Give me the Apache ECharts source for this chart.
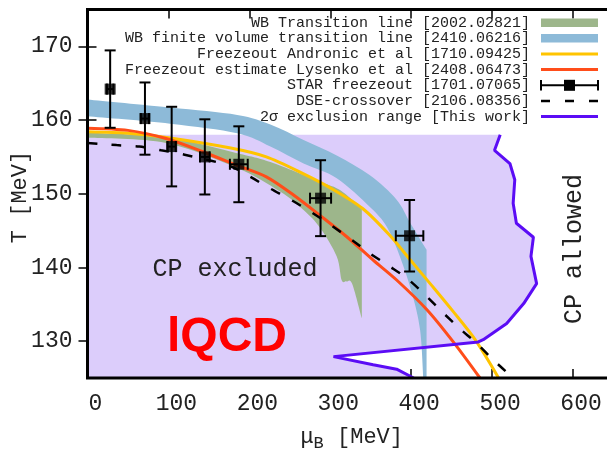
<!DOCTYPE html>
<html>
<head>
<meta charset="utf-8">
<script src="https://cdn.jsdelivr.net/npm/echarts@6/dist/echarts.min.js"></script>
<style>
  html, body { margin: 0; padding: 0; background: #fff; }
  #chart { width: 607px; height: 453px; }
</style>
</head>
<body>
<div id="chart"></div>
<script>
// Axis ticks
const muTicks = [0, 100, 200, 300, 400, 500, 600];
const tTicks = [130, 140, 150, 160, 170];

// STAR chemical freeze-out points
const starMu = [28, 71, 104, 145, 187, 288, 398];
const starT = [164.2, 160.2, 156.4, 155.0, 154.0, 149.4, 144.3];
const starTErr = [5.25, 4.9, 5.4, 5.1, 5.15, 5.15, 4.85];
const starMuErr = [4, 5, 5, 6, 11, 13, 17];

// WB transition line band (upper and lower edge)
const wbUpperMu = [0, 100, 185, 226, 288, 312, 339];
const wbUpperT = [158.3, 157.6, 155.5, 154.3, 151.6, 150.5, 148.0];
const wbLowerMu = [0, 97, 185, 238, 267, 288, 308, 314, 320, 327, 339];
const wbLowerT = [157.6, 156.9, 153.5, 150.3, 147.8, 145.3, 141.5, 138.3, 138.1, 137.8, 133.1];

// WB finite volume transition band (upper and lower edge)
const fvUpperMu = [0, 102, 185, 226, 267, 308, 349, 382, 399, 419];
const fvUpperT = [162.8, 161.7, 160.7, 159.4, 157.3, 155.2, 152.5, 149.2, 146.0, 142.4];
const fvLowerMu = [0, 102, 185, 226, 267, 308, 349, 370, 386, 401, 411, 415];
const fvLowerT = [160.5, 159.5, 158.2, 156.4, 154.1, 152.1, 148.2, 145.5, 141.5, 136.5, 131.5, 125.0];

// Freeze-out, Andronic et al
const andronicMu = [0, 50, 100, 177, 221, 267, 300, 340, 374, 399, 425, 452, 479, 508];
const andronicT = [158.4, 158.2, 157.6, 156.2, 155.0, 152.7, 150.8, 148.0, 144.3, 141.0, 137.6, 134.0, 130.2, 125.0];

// Freeze-out estimate, Lysenko et al
const lysenkoMu = [0, 50, 97, 140, 186, 221, 255, 288, 320, 353, 382, 420, 452, 485];
const lysenkoT = [158.9, 158.6, 157.5, 155.8, 153.8, 152.3, 149.8, 147.0, 144.2, 141.0, 138.3, 134.2, 129.9, 125.0];

// DSE crossover
const dseMu = [0, 36, 64, 91, 120, 175, 201, 226, 251, 275, 300, 327, 349, 374, 395, 417, 438, 460, 481, 502, 526];
const dseT = [156.9, 156.6, 156.4, 155.9, 155.3, 153.8, 152.3, 150.7, 149.2, 147.6, 145.8, 143.7, 141.9, 140.1, 138.5, 136.3, 134.0, 131.7, 129.7, 127.4, 125.0];

// 2-sigma exclusion boundary
const exclMu = [510, 503, 522, 528, 526, 530, 551, 548, 555, 539, 518, 489, 483, 304, 353, 382, 403];
const exclT = [158.0, 155.9, 154.1, 151.9, 148.7, 146.0, 144.1, 141.5, 137.8, 135.1, 132.4, 130.2, 129.9, 127.9, 126.8, 126.2, 125.0];
const exclTop = 158.0;

const MONO = '"Liberation Mono", "DejaVu Sans Mono", monospace';
const TXT = '#222';

const zip = (xs, ys) => xs.map((x, i) => [x, ys[i]]);

// Catmull-Rom spline through pixel points, as SVG cubic commands
function splineCmds(p) {
  let s = '';
  for (let i = 0; i < p.length - 1; i++) {
    const p0 = p[i - 1] || p[i], p1 = p[i], p2 = p[i + 1], p3 = p[i + 2] || p[i + 1];
    const c1 = [p1[0] + (p2[0] - p0[0]) / 6, p1[1] + (p2[1] - p0[1]) / 6];
    const c2 = [p2[0] - (p3[0] - p1[0]) / 6, p2[1] - (p3[1] - p1[1]) / 6];
    s += ' C' + c1[0] + ' ' + c1[1] + ' ' + c2[0] + ' ' + c2[1] + ' ' + p2[0] + ' ' + p2[1];
  }
  return s;
}

// Filled band between a smooth upper edge and a smooth lower edge
function bandSeries(name, upMu, upT, loMu, loT, color, z) {
  return {
    type: 'custom', name: name, z: z, silent: true,
    data: [[upMu[0], upT[0]]],
    renderItem: function (params, api) {
      const up = zip(upMu, upT).map(d => api.coord(d));
      const lo = zip(loMu, loT).map(d => api.coord(d)).reverse();
      let path = 'M' + up[0][0] + ' ' + up[0][1] + splineCmds(up);
      if (upMu[upMu.length - 1] !== loMu[loMu.length - 1]) {
        const corner = api.coord([upMu[upMu.length - 1], loT[loT.length - 1]]);
        path += ' L' + corner[0] + ' ' + corner[1];
      }
      path += ' L' + lo[0][0] + ' ' + lo[0][1] + splineCmds(lo) + ' Z';
      return { type: 'path', shape: { pathData: path }, style: { fill: color } };
    }
  };
}

function lineSeries(name, xs, ys, color, width, dash, z, smooth) {
  return {
    type: 'line', name: name, z: z, silent: true,
    data: zip(xs, ys), showSymbol: false, symbol: 'none',
    smooth: smooth, clip: true,
    lineStyle: { color: color, width: width, type: dash || 'solid', cap: 'butt' }
  };
}

const chart = echarts.init(document.getElementById('chart'));

const tickStyle = { show: true, inside: true, length: 9, lineStyle: { color: '#000', width: 1.5 } };

const option = {
  animation: false,
  backgroundColor: '#fff',
  grid: {
    left: 87.5, top: 9.5, width: 526, height: 368.5,
    outerBoundsMode: 'none', containLabel: false, show: false
  },
  xAxis: [
    {
      type: 'value', min: 0, max: 650, position: 'bottom',
      axisLine: { show: false }, splitLine: { show: false },
      axisTick: Object.assign({ customValues: muTicks }, tickStyle),
      axisLabel: {
        customValues: muTicks, margin: 14, hideOverlap: false,
        formatter: '{v|{value}}',
        rich: { v: { padding: [0, 0, 0, 16], fontFamily: MONO, fontSize: 23, color: TXT } },
        fontFamily: MONO, fontSize: 23, color: TXT
      }
    },
    {
      type: 'value', min: 0, max: 650, position: 'top',
      axisLine: { show: false }, splitLine: { show: false },
      axisTick: Object.assign({ customValues: muTicks }, tickStyle),
      axisLabel: { show: false }
    }
  ],
  yAxis: [
    {
      type: 'value', min: 125, max: 175, position: 'left',
      axisLine: { show: false }, splitLine: { show: false },
      axisTick: Object.assign({ customValues: tTicks }, tickStyle),
      axisLabel: {
        customValues: tTicks, margin: 15, padding: [4, 0, 0, 0],
        fontFamily: MONO, fontSize: 23, color: TXT
      }
    },
    {
      type: 'value', min: 125, max: 175, position: 'right',
      axisLine: { show: false }, splitLine: { show: false },
      axisTick: Object.assign({ customValues: tTicks }, tickStyle),
      axisLabel: { show: false }
    }
  ],
  series: [
    // excluded region left of the 2-sigma boundary
    {
      type: 'custom', name: 'excluded region', z: 1, silent: true,
      data: [[0, exclTop]],
      renderItem: function (params, api) {
        const pts = [api.coord([0, exclTop])]
          .concat(zip(exclMu, exclT).map(d => api.coord(d)))
          .concat([api.coord([0, exclT[exclT.length - 1]])]);
        return { type: 'polygon', shape: { points: pts }, style: { fill: '#dccdfb' } };
      }
    },
    bandSeries('WB Transition line', wbUpperMu, wbUpperT, wbLowerMu, wbLowerT, '#9db68b', 2),
    bandSeries('WB finite volume transition line', fvUpperMu, fvUpperT, fvLowerMu, fvLowerT, '#8dbad8', 3),
    lineSeries('Freezeout Andronic et al', andronicMu, andronicT, '#ffc400', 3, null, 4, 0.3),
    lineSeries('Freezeout estimate Lysenko et al', lysenkoMu, lysenkoT, '#ff4d1a', 3, null, 5, 0.3),
    // STAR error bars
    {
      type: 'custom', name: 'STAR freezeout', z: 6, silent: true,
      data: starMu.map((m, i) => [m, starT[i], starTErr[i], starMuErr[i]]),
      renderItem: function (params, api) {
        const m = api.value(0), t = api.value(1), dt = api.value(2), dm = api.value(3);
        const top = api.coord([m, t + dt]);
        const bot = api.coord([m, t - dt]);
        const lft = api.coord([m - dm, t]);
        const rgt = api.coord([m + dm, t]);
        const cap = 5.5;
        const st = { stroke: '#000', lineWidth: 2 };
        const seg = (x1, y1, x2, y2) => ({ type: 'line', shape: { x1: x1, y1: y1, x2: x2, y2: y2 }, style: st });
        return {
          type: 'group',
          children: [
            seg(top[0], top[1], bot[0], bot[1]),
            seg(top[0] - cap, top[1], top[0] + cap, top[1]),
            seg(bot[0] - cap, bot[1], bot[0] + cap, bot[1]),
            seg(lft[0], lft[1], rgt[0], rgt[1]),
            seg(lft[0], lft[1] - cap, lft[0], lft[1] + cap),
            seg(rgt[0], rgt[1] - cap, rgt[0], rgt[1] + cap)
          ]
        };
      }
    },
    {
      type: 'scatter', name: 'STAR points', z: 7, silent: true,
      data: zip(starMu, starT), symbol: 'rect', symbolSize: 11,
      itemStyle: { color: '#000' }
    },
    lineSeries('DSE-crossover', dseMu, dseT, '#000', 2.5, [10, 14], 8, 0.3),
    lineSeries('2σ exclusion range', exclMu, exclT, '#5b0cf5', 3, null, 9, false),
    // plot frame drawn above the data
    {
      type: 'custom', name: 'frame', z: 15, silent: true,
      data: [[0, 125]],
      renderItem: function (params) {
        const r = params.coordSys;
        return {
          type: 'polyline',
          shape: { points: [[r.x + r.width, r.y], [r.x, r.y], [r.x, r.y + r.height], [r.x + r.width, r.y + r.height]] },
          style: { stroke: '#000', lineWidth: 3, fill: null }
        };
      }
    }
  ],
  graphic: [
    // legend
    ...[
      'WB Transition line [2002.02821]',
      'WB finite volume transition line [2410.06216]',
      'Freezeout Andronic et al [1710.09425]',
      'Freezeout estimate Lysenko et al [2408.06473]',
      'STAR freezeout [1701.07065]',
      'DSE-crossover [2106.08356]',
      '2σ exclusion range [This work]'
    ].map((s, i) => ({
      type: 'text', z: 20,
      style: {
        text: s, x: 530, y: 22.7 + i * 15.65, textAlign: 'right', textVerticalAlign: 'middle',
        font: '15px ' + MONO, fill: TXT
      }
    })),
    { type: 'rect', z: 20, shape: { x: 541, y: 18.5, width: 57, height: 8.4 }, style: { fill: '#9db68b' } },
    { type: 'rect', z: 20, shape: { x: 541, y: 34.1, width: 57, height: 8.4 }, style: { fill: '#8dbad8' } },
    { type: 'line', z: 20, shape: { x1: 541, y1: 54, x2: 598, y2: 54 }, style: { stroke: '#ffc400', lineWidth: 3 } },
    { type: 'line', z: 20, shape: { x1: 541, y1: 69.6, x2: 598, y2: 69.6 }, style: { stroke: '#ff4d1a', lineWidth: 3 } },
    { type: 'line', z: 20, shape: { x1: 541, y1: 85.3, x2: 598, y2: 85.3 }, style: { stroke: '#000', lineWidth: 2 } },
    { type: 'line', z: 20, shape: { x1: 541, y1: 80, x2: 541, y2: 90.6 }, style: { stroke: '#000', lineWidth: 2 } },
    { type: 'line', z: 20, shape: { x1: 598, y1: 80, x2: 598, y2: 90.6 }, style: { stroke: '#000', lineWidth: 2 } },
    { type: 'rect', z: 20, shape: { x: 564, y: 79.8, width: 11, height: 11 }, style: { fill: '#000' } },
    { type: 'line', z: 20, shape: { x1: 541, y1: 100.9, x2: 599, y2: 100.9 }, style: { stroke: '#000', lineWidth: 2.5, lineDash: [9, 15] } },
    { type: 'line', z: 20, shape: { x1: 541, y1: 116.6, x2: 598, y2: 116.6 }, style: { stroke: '#5b0cf5', lineWidth: 3 } },
    // region annotations
    {
      type: 'text', z: 20,
      style: { text: 'CP excluded', x: 235, y: 269, textAlign: 'center', textVerticalAlign: 'middle', font: '25px ' + MONO, fill: TXT }
    },
    {
      type: 'text', z: 20, x: 574, y: 249, rotation: Math.PI / 2,
      style: { text: 'CP allowed', x: 0, y: 0, textAlign: 'center', textVerticalAlign: 'middle', font: '25px ' + MONO, fill: TXT }
    },
    {
      type: 'text', z: 20,
      style: { text: 'lQCD', x: 227, y: 338, textAlign: 'center', textVerticalAlign: 'middle', font: 'bold 48px "Liberation Sans", Arial, sans-serif', fill: '#ff0000' }
    },
    // axis titles
    {
      type: 'text', z: 20, x: 20, y: 197, rotation: Math.PI / 2,
      style: { text: 'T [MeV]', x: 0, y: 0, textAlign: 'center', textVerticalAlign: 'middle', font: '22px ' + MONO, fill: TXT }
    },
    {
      type: 'text', z: 20,
      style: {
        text: '{m|μ}{s|B}{n| [MeV]}', x: 403, y: 437, textAlign: 'right', textVerticalAlign: 'middle',
        rich: {
          m: { fontFamily: MONO, fontSize: 22, fill: TXT, verticalAlign: 'middle' },
          s: { fontFamily: MONO, fontSize: 17, fill: TXT, padding: [12, 0, 0, 0] },
          n: { fontFamily: MONO, fontSize: 22, fill: TXT }
        }
      }
    }
  ]
};

chart.setOption(option);
</script>
</body>
</html>
